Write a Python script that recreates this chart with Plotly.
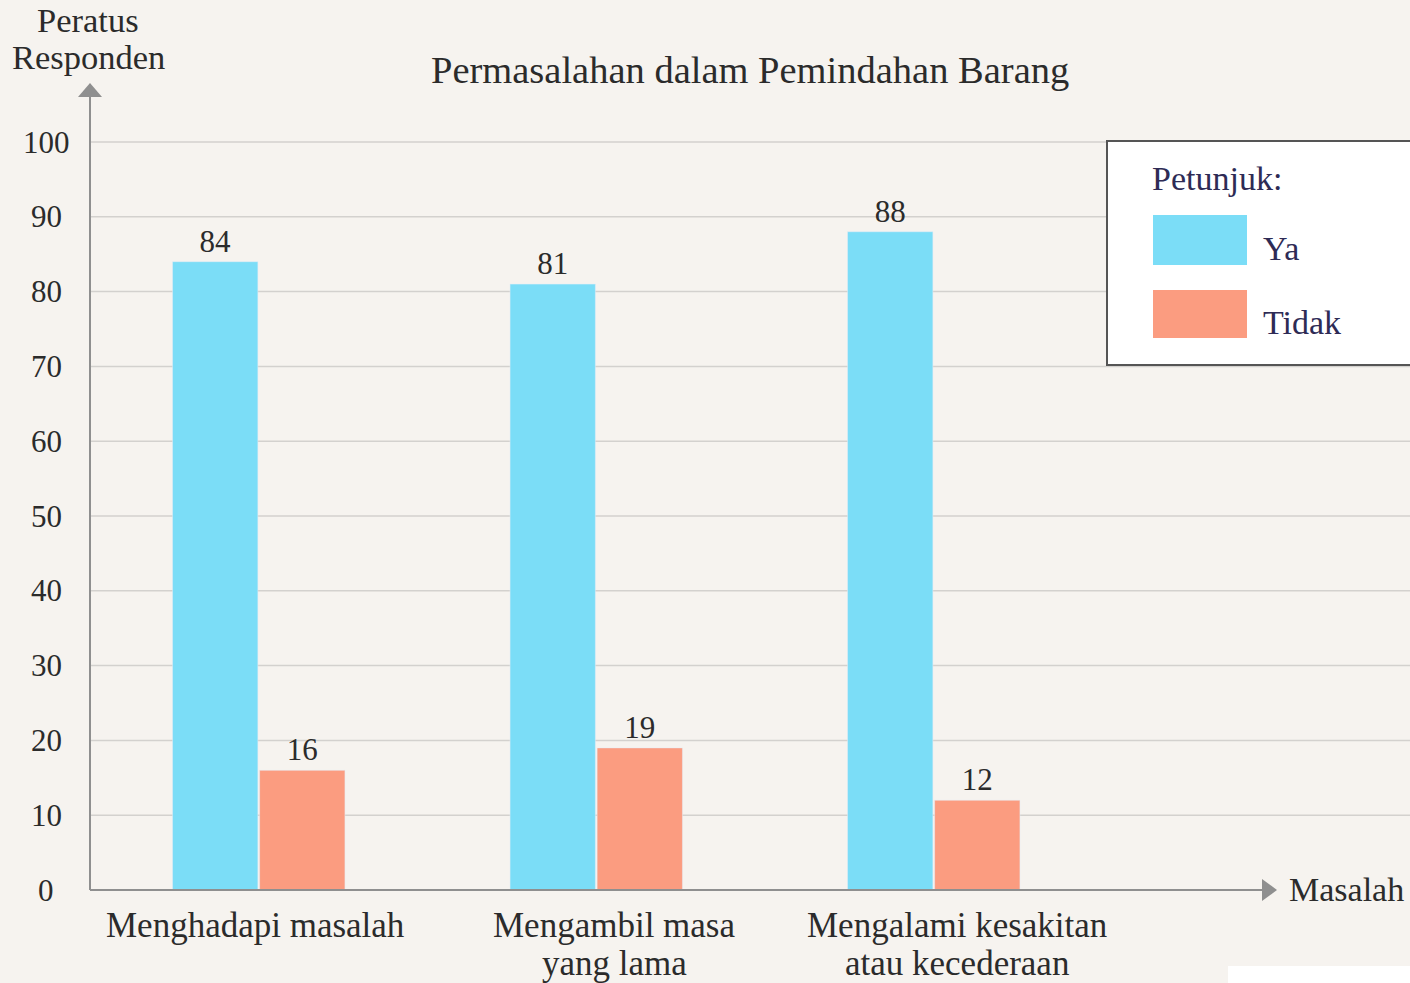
import plotly.graph_objects as go

# ---------------- data ----------------
categories = ["Menghadapi masalah", "Mengambil masa<br>yang lama", "Mengalami kesakitan<br>atau kecederaan"]
ya_values = [84, 81, 88]
tidak_values = [16, 19, 12]
series_names = ["Ya", "Tidak"]
y_ticks = [0, 10, 20, 30, 40, 50, 60, 70, 80, 90, 100]
title_text = "Permasalahan dalam Pemindahan Barang"
y_title_lines = ["Peratus", "Responden"]
x_title = "Masalah"
legend_title = "Petunjuk:"

# ---------------- style ----------------
W, H = 1410, 983
ML, MR, MT, MB = 90, 0, 83, 93
PW, PH = W - ML - MR, H - MT - MB
BG = "#F6F3EF"
YA_COLOR = "#7BDDF7"
TIDAK_COLOR = "#FB9C80"
TXT = "#2B2B2B"
LEG_TXT = "#2E2B55"
AXIS_COLOR = "#8F8F8F"
GRID_COLOR = "#D3D1CE"
FONT = "Liberation Serif"
PX_PER_UNIT = 7.48
label_xshift = [-3, 18, 23]


def pxx(px):
    return (px - ML) / PW


def pxy(py):
    return (H - MB - py) / PH


x_idx = list(range(len(categories)))

fig = go.Figure()
fig.add_trace(go.Bar(x=x_idx, y=ya_values, name=series_names[0], marker_color=YA_COLOR,
                     text=[str(v) for v in ya_values], textposition="outside",
                     textfont=dict(family=FONT, size=31, color=TXT), cliponaxis=False,
                     showlegend=False))
fig.add_trace(go.Bar(x=x_idx, y=tidak_values, name=series_names[1], marker_color=TIDAK_COLOR,
                     text=[str(v) for v in tidak_values], textposition="outside",
                     textfont=dict(family=FONT, size=31, color=TXT), cliponaxis=False,
                     showlegend=False))

shapes = []
# gridlines
for t in y_ticks[1:]:
    shapes.append(dict(type="line", xref="paper", yref="y", x0=0, x1=1, y0=t, y1=t,
                       line=dict(color=GRID_COLOR, width=1.5), layer="below"))
# axes lines
shapes.append(dict(type="line", xref="paper", yref="paper", x0=0, x1=0, y0=0, y1=pxy(96),
                   line=dict(color=AXIS_COLOR, width=2)))
shapes.append(dict(type="line", xref="paper", yref="paper", x0=0, x1=pxx(1264), y0=0, y1=0,
                   line=dict(color=AXIS_COLOR, width=2)))
# arrow heads
shapes.append(dict(type="path", xref="paper", yref="paper",
                   path=f"M {pxx(90)} {pxy(83)} L {pxx(78)} {pxy(97)} L {pxx(102)} {pxy(97)} Z",
                   fillcolor=AXIS_COLOR, line=dict(width=0)))
shapes.append(dict(type="path", xref="paper", yref="paper",
                   path=f"M {pxx(1277)} {pxy(890)} L {pxx(1262)} {pxy(879)} L {pxx(1262)} {pxy(901)} Z",
                   fillcolor=AXIS_COLOR, line=dict(width=0)))
# legend box
shapes.append(dict(type="rect", xref="paper", yref="paper", x0=pxx(1107), x1=pxx(1414),
                   y0=pxy(365), y1=pxy(141), fillcolor="white", line=dict(color="#555555", width=2)))
shapes.append(dict(type="rect", xref="paper", yref="paper", x0=pxx(1153), x1=pxx(1247),
                   y0=pxy(265), y1=pxy(215), fillcolor=YA_COLOR, line=dict(width=0)))
shapes.append(dict(type="rect", xref="paper", yref="paper", x0=pxx(1153), x1=pxx(1247),
                   y0=pxy(338), y1=pxy(290), fillcolor=TIDAK_COLOR, line=dict(width=0)))
# white strip at bottom right
shapes.append(dict(type="rect", xref="paper", yref="paper", x0=pxx(1228), x1=pxx(1415),
                   y0=pxy(990), y1=pxy(966), fillcolor="white", line=dict(width=0)))

annotations = []
annotations.append(dict(text=title_text, xref="paper", yref="paper", x=pxx(750), y=pxy(70),
                        showarrow=False, font=dict(family=FONT, size=38.5, color=TXT),
                        xanchor="center", yanchor="middle"))
for i, line in enumerate(y_title_lines):
    annotations.append(dict(text=line, xref="paper", yref="paper", x=pxx(88), y=pxy(20 + 37 * i),
                            showarrow=False, font=dict(family=FONT, size=34.5, color=TXT),
                            xanchor="center", yanchor="middle"))
# centred y tick labels
for t in y_ticks:
    annotations.append(dict(text=str(t), xref="paper", yref="y", x=pxx(46), y=t,
                            showarrow=False, font=dict(family=FONT, size=31, color=TXT),
                            xanchor="center", yanchor="middle"))
annotations.append(dict(text=x_title, xref="paper", yref="paper", x=pxx(1287), y=pxy(889),
                        showarrow=False, font=dict(family=FONT, size=34, color=TXT),
                        xanchor="left", yanchor="middle"))
for i, cat in enumerate(categories):
    for j, line in enumerate(cat.split("<br>")):
        annotations.append(dict(text=line, xref="x", yref="paper", x=x_idx[i], y=pxy(925 + 38 * j),
                                xshift=label_xshift[i], showarrow=False,
                                font=dict(family=FONT, size=35, color=TXT),
                                xanchor="center", yanchor="middle"))
annotations.append(dict(text=legend_title, xref="paper", yref="paper", x=pxx(1150), y=pxy(178),
                        showarrow=False, font=dict(family=FONT, size=34, color=LEG_TXT),
                        xanchor="left", yanchor="middle"))
annotations.append(dict(text=series_names[0], xref="paper", yref="paper", x=pxx(1261), y=pxy(248),
                        showarrow=False, font=dict(family=FONT, size=34, color=LEG_TXT),
                        xanchor="left", yanchor="middle"))
annotations.append(dict(text=series_names[1], xref="paper", yref="paper", x=pxx(1261), y=pxy(322),
                        showarrow=False, font=dict(family=FONT, size=34, color=LEG_TXT),
                        xanchor="left", yanchor="middle"))

fig.update_layout(
    width=W, height=H,
    margin=dict(l=ML, r=MR, t=MT, b=MB, pad=0),
    paper_bgcolor=BG, plot_bgcolor=BG,
    barmode="group", bargap=0.484, bargroupgap=0.02,
    shapes=shapes, annotations=annotations,
    showlegend=False,
    font=dict(family=FONT, color=TXT),
)
fig.update_xaxes(range=[-0.5, -0.5 + PW / 337.5], showgrid=False, zeroline=False, showline=False,
                 showticklabels=False, ticks="", fixedrange=True)
fig.update_yaxes(range=[0, PH / PX_PER_UNIT], tickvals=y_ticks, showgrid=False, zeroline=False,
                 showline=False, ticks="", showticklabels=False, fixedrange=True)

fig.write_html("out.html", config={"displayModeBar": False},
               post_script="document.body.style.margin='0';document.body.style.overflow='hidden';")
